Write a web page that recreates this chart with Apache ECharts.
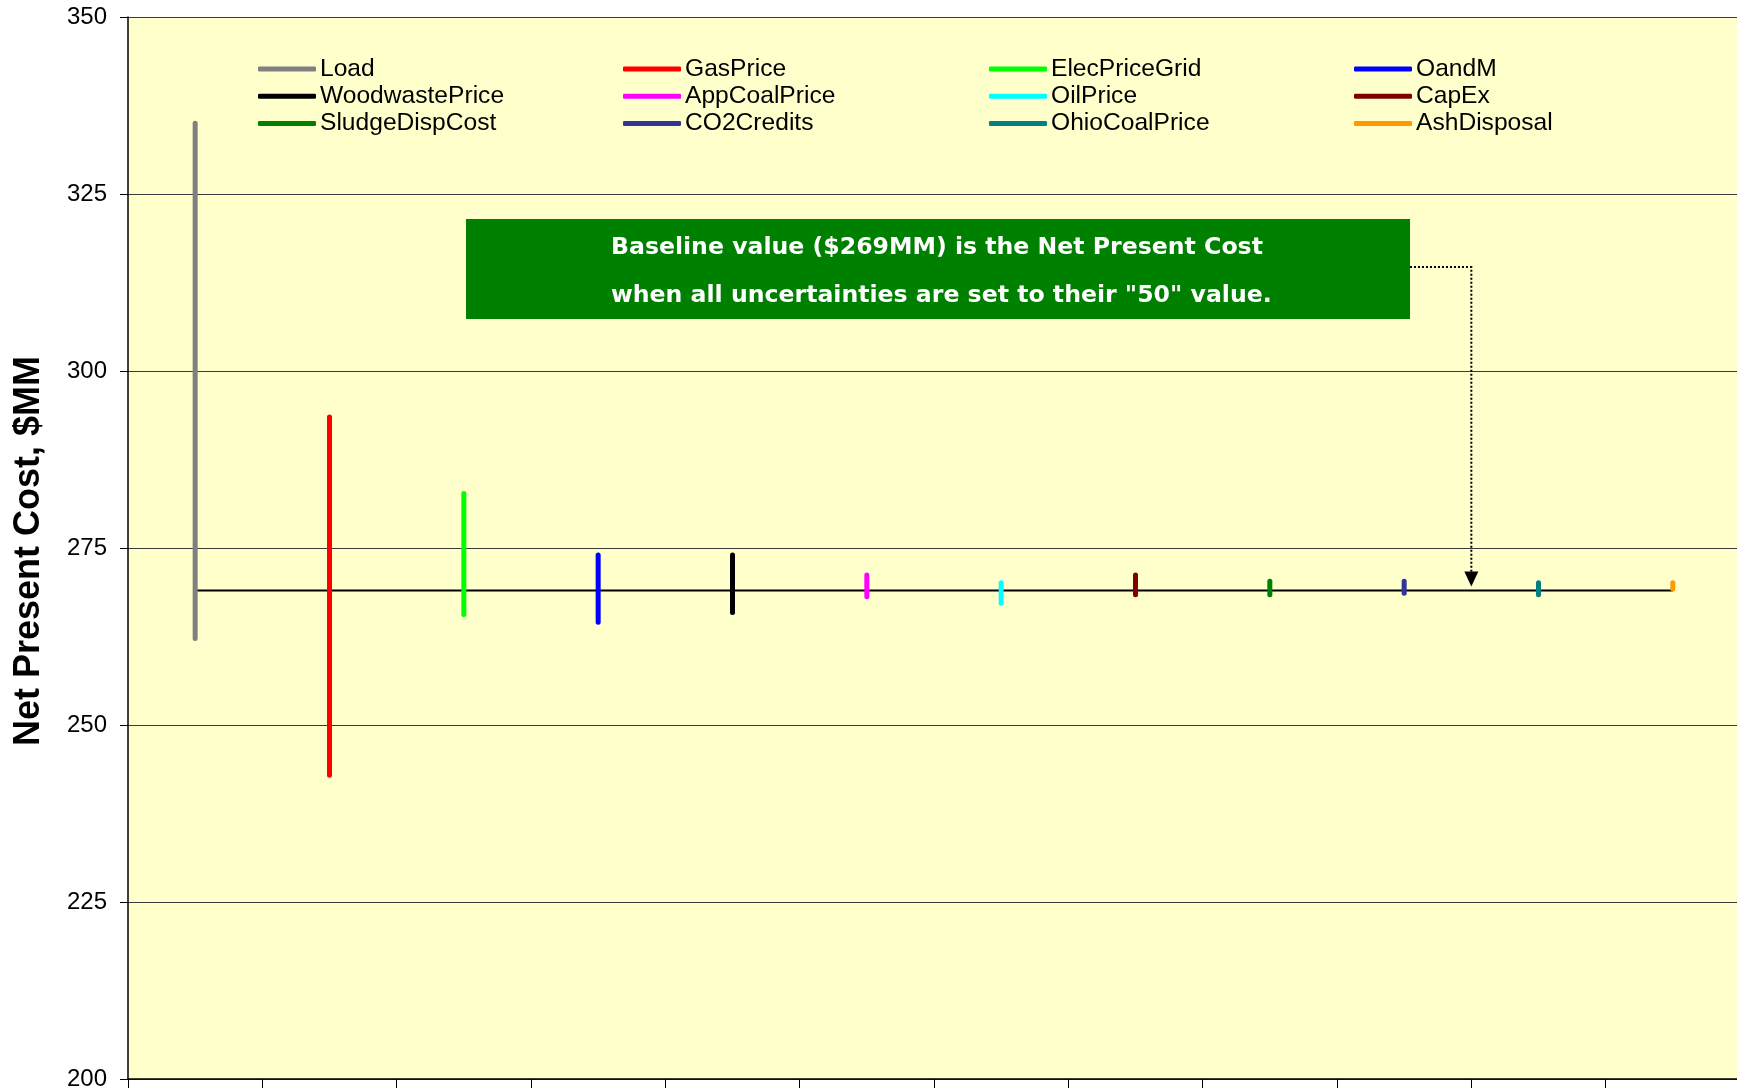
<!DOCTYPE html>
<html>
<head>
<meta charset="utf-8">
<title>Net Present Cost sensitivity</title>
<script src="https://cdn.jsdelivr.net/npm/echarts@6/dist/echarts.min.js"></script>
<style>
  html, body { margin: 0; padding: 0; background: #ffffff; overflow: hidden; }
  #chart { width: 1750px; height: 1091px; }
</style>
</head>
<body>
<div id="chart"></div>
<script>
// Uncertainty drivers, in plotting order along the x axis
const categories = ['Load', 'GasPrice', 'ElecPriceGrid', 'OandM', 'WoodwastePrice', 'AppCoalPrice',
  'OilPrice', 'CapEx', 'SludgeDispCost', 'CO2Credits', 'OhioCoalPrice', 'AshDisposal'];

// Net Present Cost range ($MM) for each driver: high and low ends of the swing
const highValues = [335.0, 293.5, 282.7, 274.0, 274.0, 271.2, 270.1, 271.2, 270.3, 270.3, 270.1, 270.1];
const lowValues  = [262.2, 242.9, 265.6, 264.5, 265.9, 268.1, 267.2, 268.4, 268.4, 268.6, 268.4, 269.2];

// Baseline Net Present Cost when every uncertainty is at its "50" value
const baseline = 269;

const colors = ['#808080', '#FF0000', '#00FF00', '#0000FF', '#000000', '#FF00FF',
  '#00FFFF', '#800000', '#008000', '#333399', '#008080', '#FF9900'];

// y-axis ticks
const yMin = 200, yMax = 350, yStep = 25;

// Legend columns (row-major reading order across four columns)
const legendColumns = [
  ['Load', 'WoodwastePrice', 'SludgeDispCost'],
  ['GasPrice', 'AppCoalPrice', 'CO2Credits'],
  ['ElecPriceGrid', 'OilPrice', 'OhioCoalPrice'],
  ['OandM', 'CapEx', 'AshDisposal']
];
const legendLeft = [258, 623, 989, 1354];

const noteLines = ['Baseline value ($269MM) is the Net Present Cost',
  'when all uncertainties are set to their "50" value.'];

const chart = echarts.init(document.getElementById('chart'), null, { renderer: 'canvas' });

function rangeRenderer(params, api) {
  const lo = api.coord([api.value(0), api.value(1)]);
  const hi = api.coord([api.value(0), api.value(2)]);
  return {
    type: 'line',
    shape: { x1: lo[0], y1: lo[1], x2: hi[0], y2: hi[1] },
    style: { stroke: api.visual('color'), lineWidth: 5, lineCap: 'round' }
  };
}

const rangeSeries = categories.map((name, i) => ({
  name: name,
  type: 'custom',
  renderItem: rangeRenderer,
  itemStyle: { color: colors[i] },
  encode: { x: 0, y: [1, 2] },
  data: [[i, lowValues[i], highValues[i]]],
  z: 5,
  silent: true
}));

const baselineSeries = {
  name: 'Baseline',
  type: 'line',
  data: categories.map(() => baseline),
  symbol: 'none',
  lineStyle: { color: '#000000', width: 2 },
  z: 3,
  silent: true
};

const legends = legendColumns.map((col, k) => ({
  data: col,
  orient: 'vertical',
  left: legendLeft[k],
  top: 56,
  padding: 0,
  itemGap: 1.2,
  itemWidth: 58,
  itemHeight: 5,
  icon: 'roundRect',
  selectedMode: false,
  textStyle: { fontFamily: 'Liberation Sans, Arial, sans-serif', fontSize: 24.6, color: '#000', lineHeight: 26, padding: [0, 0, 0, -1] }
}));

chart.setOption({
  animation: false,
  backgroundColor: '#ffffff',
  grid: {
    left: 128, width: 1612, top: 17, bottom: 11,
    show: true, backgroundColor: '#FFFFCC', borderWidth: 0
  },
  legend: legends,
  xAxis: {
    type: 'category',
    data: categories,
    boundaryGap: true,
    axisLine: { lineStyle: { color: '#000', width: 1.5 } },
    axisTick: { show: true, length: 9, lineStyle: { color: '#000', width: 1 } },
    axisLabel: { show: false },
    splitLine: { show: false }
  },
  yAxis: {
    type: 'value',
    min: yMin, max: yMax, interval: yStep,
    axisLine: { show: true, lineStyle: { color: '#000', width: 1.5 } },
    axisTick: { show: true, length: 8, lineStyle: { color: '#000', width: 1 } },
    axisLabel: { fontFamily: 'Liberation Sans, Arial, sans-serif', fontSize: 24, color: '#000', margin: 21 },
    splitLine: { show: true, lineStyle: { color: '#3a3a3a', width: 1 } }
  },
  series: [baselineSeries].concat(rangeSeries)
});

// Annotation box, leader line and axis title
const boxX = 466, boxY = 219, boxW = 944, boxH = 100;
const leaderY = 267;
// arrow points at the baseline, on the tick between CO2Credits and OhioCoalPrice
const pLeft = chart.convertToPixel({ xAxisIndex: 0, yAxisIndex: 0 }, [9, baseline]);
const pRight = chart.convertToPixel({ xAxisIndex: 0, yAxisIndex: 0 }, [10, baseline]);
const arrowX = (pLeft[0] + pRight[0]) / 2;
const arrowTip = pLeft[1] - 4;

chart.setOption({
  graphic: [
    {
      type: 'text',
      x: 29, y: 551,
      rotation: Math.PI / 2,
      style: {
        text: 'Net Present Cost, $MM',
        fontFamily: 'Liberation Sans, Arial, sans-serif',
        fontWeight: 'bold', fontSize: 36, fill: '#000',
        align: 'center', verticalAlign: 'middle'
      },
      z: 10
    },
    {
      type: 'rect',
      shape: { x: boxX, y: boxY, width: boxW, height: boxH },
      style: { fill: '#008000' },
      z: 10
    },
    {
      type: 'text',
      x: 611, y: 248,
      style: {
        text: noteLines[0], fill: '#ffffff',
        fontFamily: 'DejaVu Sans, Verdana, sans-serif', fontWeight: 'bold', fontSize: 23.6,
        align: 'left', verticalAlign: 'middle'
      },
      z: 11
    },
    {
      type: 'text',
      x: 611, y: 296,
      style: {
        text: noteLines[1], fill: '#ffffff',
        fontFamily: 'DejaVu Sans, Verdana, sans-serif', fontWeight: 'bold', fontSize: 23.6,
        align: 'left', verticalAlign: 'middle'
      },
      z: 11
    },
    {
      type: 'polyline',
      shape: { points: [[boxX + boxW, leaderY], [arrowX, leaderY], [arrowX, arrowTip - 14]] },
      style: { stroke: '#000', lineWidth: 2, lineDash: [2, 2], fill: null },
      z: 10
    },
    {
      type: 'polygon',
      shape: { points: [[arrowX - 7, arrowTip - 15], [arrowX + 7, arrowTip - 15], [arrowX, arrowTip]] },
      style: { fill: '#000' },
      z: 10
    }
  ]
});
</script>
</body>
</html>
